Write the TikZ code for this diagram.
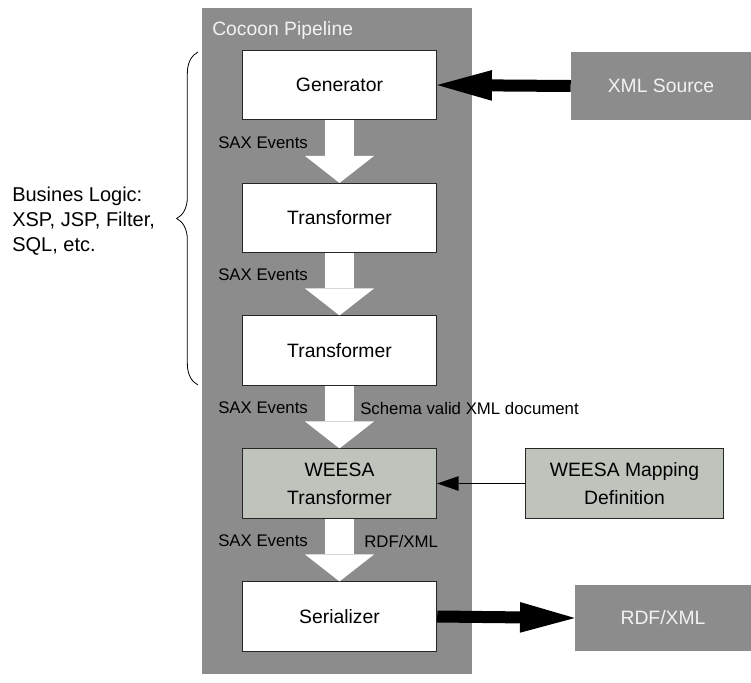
\documentclass[tikz,border=0pt]{standalone}
\usepackage{fontspec}
\setmainfont{Liberation Sans}
\usetikzlibrary{arrows.meta,decorations.pathreplacing}
\definecolor{pipegray}{RGB}{140,140,140}
\definecolor{weesagreen}{RGB}{190,195,187}
\definecolor{palewhite}{RGB}{242,242,242}

\begin{document}
\begin{tikzpicture}[x=0.75pt,y=-0.75pt,
  stage/.style={draw=black!85,line width=0.6pt,fill=white,minimum width=146pt,
    minimum height=52pt,inner sep=0pt,align=center,font=\fontsize{14.5}{21}\selectfont},
  weesabox/.style={stage,fill=weesagreen},
  outbox/.style={fill=pipegray,text=palewhite,inner sep=0pt,font=\fontsize{14.5}{21}\selectfont},
  evlabel/.style={anchor=west,inner sep=0pt,font=\fontsize{12.6}{15}\selectfont},
  flow/.style={white,line width=21.75pt,-{Triangle[width=51.75pt,length=20.25pt,line width=0pt]}},
  feed/.style={black,line width=9pt,-{Triangle[width=23pt,length=41pt,line width=0pt]}},
  ]
\useasboundingbox (0,0) rectangle (751,683);

% the pipeline
\fill[pipegray] (202,8) rectangle (472,674);
\node[anchor=west,inner sep=0pt,text=palewhite,font=\fontsize{14.5}{18}\selectfont] (pipetitle) at (212,30) {Cocoon Pipeline};

\node[stage] (gen) at (339.5,85) {Generator};
\node[stage] (trA) at (339.5,218) {Transformer};
\node[stage] (trB) at (339.5,350.5) {Transformer};
\node[weesabox] (weesa) at (339.5,483.5) {WEESA\\Transformer};
\node[stage] (ser) at (339.5,616.5) {Serializer};

% outside the pipeline
\node[outbox,minimum width=135pt,minimum height=51pt] (xmlsrc) at (661,86) {XML Source};
\node[weesabox,minimum width=148pt] (mapping) at (624.5,483.5) {WEESA Mapping\\Definition};
\node[outbox,minimum width=132pt,minimum height=49.5pt] (rdf) at (663,618) {RDF/XML};

% SAX flow
\draw[flow] (gen.south) -- (trA.north);
\draw[flow] (trA.south) -- (trB.north);
\draw[flow] (trB.south) -- (weesa.north);
\draw[flow] (weesa.south) -- (ser.north);

\node[evlabel] (evA) at (218,143) {SAX Events};
\node[evlabel] (evB) at (218,275) {SAX Events};
\node[evlabel] (evC) at (218,408) {SAX Events};
\node[evlabel] (evD) at (218,541) {SAX Events};
\node[evlabel] (schema) at (360,408) {Schema valid XML document};
\node[evlabel] (rdfout) at (364,541) {RDF/XML};

\draw[feed] (xmlsrc.west) -- (gen.east);
\draw[feed] (ser.east) -- (rdf.west);
\draw[line width=0.75pt,-{Triangle[width=11pt,length=16pt,line width=0pt]}] (mapping.west) -- (weesa.east);

% business logic brace
\coordinate (braceTop) at (198,52);
\coordinate (braceBot) at (198,385);
\draw[line width=0.6pt,decorate,decoration={brace,amplitude=16pt}] (braceBot) -- (braceTop);
\node[anchor=west,inner sep=0pt,align=left,font=\fontsize{15}{19}\selectfont] (logic) at (12,221)
  {Busines Logic:\\XSP, JSP, Filter,\\SQL, etc.};

\end{tikzpicture}
\end{document}
